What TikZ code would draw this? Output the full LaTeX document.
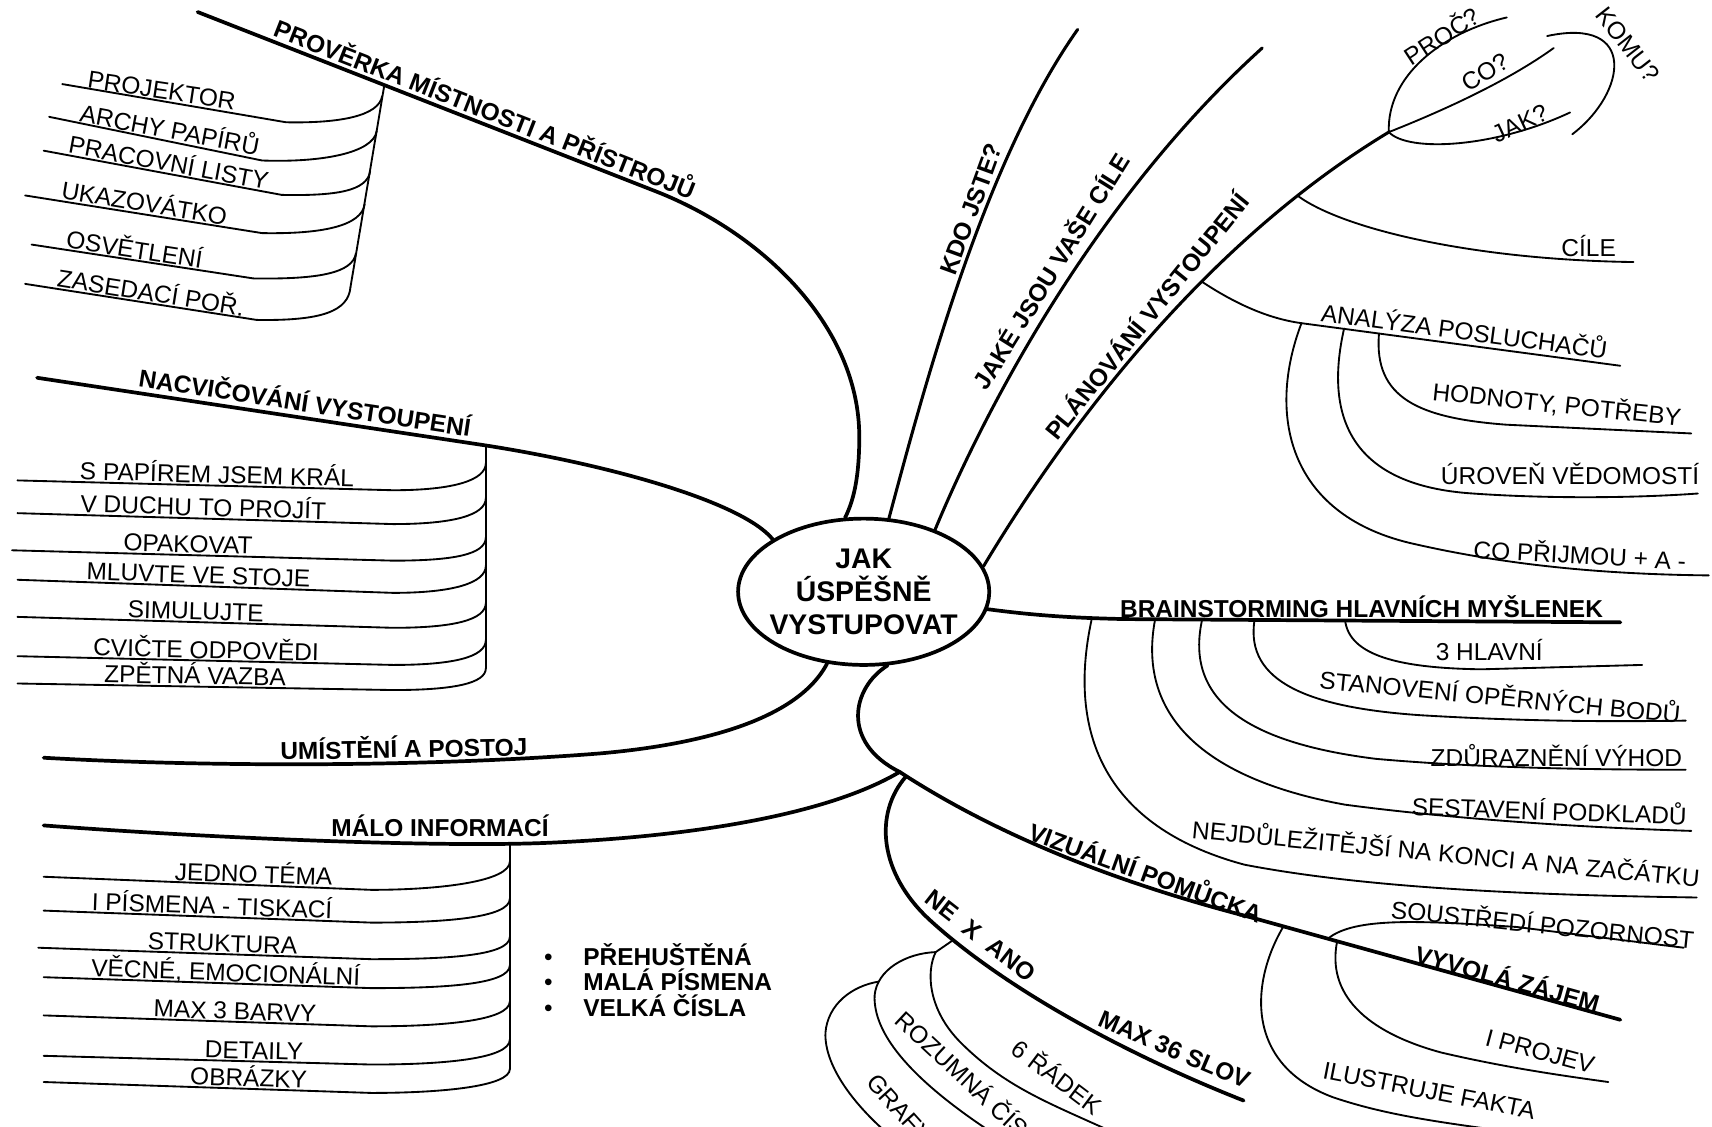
\documentclass[tikz,border=0pt]{standalone}
\usepackage{fontspec}
\setmainfont{Liberation Sans}
\usetikzlibrary{shapes.geometric}

\begin{document}
\begin{tikzpicture}[x=0.5pt,y=-0.5pt,
  trunk/.style={line width=1.7pt,line cap=round},
  stem/.style={line width=1.4pt,line cap=round},
  twig/.style={line width=0.85pt,line cap=round},
  leaf/.style={font=\fontsize{11.2}{13}\selectfont,inner sep=0pt,anchor=base},
  head/.style={font=\fontsize{11.2}{13}\selectfont\bfseries,inner sep=0pt,anchor=base},
]
\useasboundingbox (0,0) rectangle (1568,1032);
\clip (0,0) rectangle (1568,1032);

% === CENTRE ===
\node[ellipse,draw,line width=1.7pt,minimum width=115pt,minimum height=67pt] (hub) at (791,542) {};
\node[font=\fontsize{13}{15}\selectfont\bfseries,align=center] (hubtext) at (hub) {JAK\\ÚSPĚŠNĚ\\VYSTUPOVAT};

% === TOP LEFT: room check ===
\draw[trunk] (181,11) -- (600,175) .. controls (700,214) and (787,300) .. (787,400) .. controls (787,440) and (781,460) .. (hub.104);
\node[head,rotate=-21.4] (proverka) at (441,108) {PROVĚRKA MÍSTNOSTI A PŘÍSTROJŮ};
\draw[twig] (352,78) -- (321,263);
\draw[twig] (57,77) -- (262,112) .. controls +(50,1) and +(-3,18) .. (350,88);
\draw[twig] (45,107) -- (240,147) .. controls +(55,2) and +(-3,20) .. (345,120);
\draw[twig] (40,138) -- (258,178.5) .. controls +(50,1) and +(-3,18) .. (339,157);
\draw[twig] (23,179) -- (240,213.5) .. controls +(55,1) and +(-3,20) .. (334,187);
\draw[twig] (29,224) -- (232,255) .. controls +(60,1) and +(-3,18) .. (326,232);
\draw[twig] (23,260) -- (235,293) .. controls +(60,1) and +(-2,22) .. (321,263);
\node[leaf,rotate=-8.5] (projektor) at (147,90.5) {PROJEKTOR};
\node[leaf,rotate=-10.6] (archy) at (154,127) {ARCHY PAPÍRŮ};
\node[leaf,rotate=-10.5] (listy) at (153,157) {PRACOVNÍ LISTY};
\node[leaf,rotate=-9.3] (ukazovatko) at (131,194) {UKAZOVÁTKO};
\node[leaf,rotate=-8.7] (osvetleni) at (122,236.5) {OSVĚTLENÍ};
\node[leaf,rotate=-9] (zasedaci) at (137,276) {ZASEDACÍ POŘ.};

% === LEFT: rehearsal ===
\draw[trunk] (34,346) -- (445,408) .. controls (560,426) and (680,460) .. (hub.150);
\node[head,rotate=-8.6] (nacvic) at (278,377) {NACVIČOVÁNÍ VYSTOUPENÍ};
\draw[twig] (445,408) -- (445,612);
\draw[twig] (16,440) -- (360,449) .. controls +(55,0) and +(0,16) .. (445,424);
\draw[twig] (16,470) -- (360,480) .. controls +(55,0) and +(0,16) .. (445,456);
\draw[twig] (11,504) -- (360,513.5) .. controls +(55,0) and +(0,16) .. (445,492);
\draw[twig] (16,531) -- (360,543) .. controls +(55,0) and +(0,16) .. (445,518);
\draw[twig] (16,565) -- (360,575) .. controls +(55,0) and +(0,16) .. (445,552);
\draw[twig] (16,601) -- (360,609) .. controls +(55,0) and +(0,16) .. (445,586);
\draw[twig] (16,626) -- (360,632) .. controls +(55,0) and +(0,14) .. (445,612);
\node[leaf,rotate=-1.5] (kral) at (198.5,442.5) {S PAPÍREM JSEM KRÁL};
\node[leaf,rotate=-1.7] (duch) at (186,472.5) {V DUCHU TO PROJÍT};
\node[leaf,rotate=-1.6] (opakovat) at (172,506) {OPAKOVAT};
\node[leaf,rotate=-2] (mluvte) at (181.5,534.5) {MLUVTE VE STOJE};
\node[leaf,rotate=-1.7] (simulujte) at (179,567.5) {SIMULUJTE};
\node[leaf,rotate=-1.3] (cvicte) at (188.5,603) {CVIČTE ODPOVĚDI};
\node[leaf,rotate=-1] (zpetna) at (178.5,626.5) {ZPĚTNÁ VAZBA};

% === LEFT: posture ===
\draw[trunk] (40,694) .. controls (200,703) and (400,702) .. (550,690) .. controls (640,682) and (730,660) .. (hub.243);
\node[head,rotate=1] (umisteni) at (370,694) {UMÍSTĚNÍ A POSTOJ};

% === BOTTOM LEFT: little information ===
\coordinate (jv) at (824,707);
\draw[trunk] (hub.288) .. controls (780,630) and (770,680) .. (jv);
\draw[trunk] (jv) .. controls (760,745) and (640,766) .. (500,772) .. controls (400,776) and (200,768) .. (40,756);
\node[head] (malo) at (403,766) {MÁLO INFORMACÍ};
\draw[twig] (467,773) -- (467,979);
\draw[twig] (40,803) -- (340,815) .. controls +(65,0) and +(0,18) .. (467,789);
\draw[twig] (40,834) -- (340,845) .. controls +(65,0) and +(0,18) .. (467,823);
\draw[twig] (35,868) -- (340,878.5) .. controls +(65,0) and +(0,18) .. (467,858);
\draw[twig] (40,895) -- (340,905) .. controls +(65,0) and +(0,18) .. (467,884);
\draw[twig] (40,930) -- (340,940) .. controls +(65,0) and +(0,18) .. (467,917);
\draw[twig] (40,967) -- (340,975) .. controls +(65,0) and +(0,18) .. (467,952);
\draw[twig] (40,991) -- (340,1001) .. controls +(65,0) and +(0,16) .. (467,979);
\node[leaf,rotate=-2] (tema) at (232,808.5) {JEDNO TÉMA};
\node[leaf,rotate=-2] (pismena) at (194,837.5) {I PÍSMENA - TISKACÍ};
\node[leaf,rotate=-2] (struktura) at (203.5,871.8) {STRUKTURA};
\node[leaf,rotate=-2] (vecne) at (206.5,898.5) {VĚCNÉ, EMOCIONÁLNÍ};
\node[leaf,rotate=-2] (barvy) at (215,933.8) {MAX 3 BARVY};
\node[leaf,rotate=-1.5] (detaily) at (232.5,970) {DETAILY};
\node[leaf,rotate=-2] (obrazky) at (227.5,995) {OBRÁZKY};
\node[head,anchor=base west] (bul1) at (498,884) {{\mdseries\textbullet}\hspace{14pt}PŘEHUŠTĚNÁ};
\node[head,anchor=base west] (bul2) at (498,907) {{\mdseries\textbullet}\hspace{14pt}MALÁ PÍSMENA};
\node[head,anchor=base west] (bul3) at (498,931) {{\mdseries\textbullet}\hspace{14pt}VELKÁ ČÍSLA};

% === TOP: who, goals, planning ===
\coordinate (q) at (1272,121);
\draw[stem] (hub.71) .. controls (845,360) and (900,150) .. (987,27);
\node[head,rotate=70] (kdo) at (897,194) {KDO JSTE?};
\draw[stem] (hub.41) .. controls (900,380) and (1000,185) .. (1156,44);
\node[head,rotate=58] (goals) at (970,253) {JAKÉ JSOU VAŠE CÍLE};
\draw[stem] (hub.12) .. controls (975,395) and (1100,225) .. (q) coordinate[pos=0.63] (anroot) coordinate[pos=0.83] (cileroot);
\node[head,rotate=51] (planovani) at (1057,295) {PLÁNOVÁNÍ VYSTOUPENÍ};

\draw[twig] (q) .. controls (1270,70) and (1320,30) .. (1380,16);
\draw[twig] (q) .. controls (1320,102) and (1380,75) .. (1423,44);
\draw[twig] (q) .. controls (1290,140) and (1370,135) .. (1438,103);
\draw[twig] (1417,33) .. controls (1500,15) and (1490,85) .. (1440,123);
\node[leaf,anchor=center,rotate=33] (proc) at (1320,32) {PROČ?};
\node[leaf,anchor=center,rotate=32] (co) at (1360,66) {CO?};
\node[leaf,anchor=center,rotate=25] (jak) at (1392,113) {JAK?};
\node[leaf,anchor=center,rotate=-52] (komu) at (1491,41) {KOMU?};

\draw[twig] (cileroot) .. controls (1230,210) and (1350,238) .. (1496,240);
\node[leaf] (cilelabel) at (1455,235) {CÍLE};

\draw[twig] (anroot) .. controls (1140,284) and (1170,293) .. (1192,296) -- (1484,335);
\node[leaf,rotate=-7.6] (analyza) at (1340,311.5) {ANALÝZA POSLUCHAČŮ};
\draw[twig] (1263,305.5) .. controls (1258,365) and (1300,383) .. (1380,389) -- (1549,397);
\draw[twig] (1231,301) .. controls (1212,385) and (1240,445) .. (1349,452) .. controls (1420,457) and (1500,456) .. (1555,452);
\draw[twig] (1192,296) .. controls (1160,380) and (1180,470) .. (1290,497) .. controls (1380,518) and (1470,526) .. (1565,527);
\node[leaf,anchor=center,rotate=-6] (hodnoty) at (1426,370) {HODNOTY, POTŘEBY};
\node[leaf] (uroven) at (1438,444) {ÚROVEŇ VĚDOMOSTÍ};
\node[leaf,anchor=center,rotate=-3] (prijmou) at (1447,507) {CO PŘIJMOU + A -};

% === RIGHT: brainstorming ===
\draw[trunk] (hub.352) .. controls (950,564) and (985,566) .. (1030,567) -- (1484,570);
\node[head] (brain) at (1247,565.5) {BRAINSTORMING HLAVNÍCH MYŠLENEK};
\draw[twig] (1232,568.5) .. controls (1236,600) and (1280,612) .. (1357,613) -- (1504,609);
\draw[twig] (1149,568) .. controls (1140,625) and (1200,648) .. (1300,655) .. controls (1400,661) and (1480,661) .. (1544,660);
\draw[twig] (1101,567.5) .. controls (1085,640) and (1140,680) .. (1260,695) .. controls (1350,703) and (1450,705) .. (1544,705);
\draw[twig] (1058,567) .. controls (1040,660) and (1110,715) .. (1232,737) .. controls (1330,750) and (1450,758) .. (1549,761);
\draw[twig] (1000,566.5) .. controls (975,680) and (1020,760) .. (1140,792) .. controls (1260,815) and (1420,820) .. (1554,822);
\node[leaf] (hlavni) at (1364,604.5) {3 HLAVNÍ};
\node[leaf,anchor=center,rotate=-5.5] (stanoveni) at (1374,636.5) {STANOVENÍ OPĚRNÝCH BODŮ};
\node[leaf] (vyhod) at (1425.5,702) {ZDŮRAZNĚNÍ VÝHOD};
\node[leaf,anchor=center,rotate=-2] (podklady) at (1419,741) {SESTAVENÍ PODKLADŮ};
\node[leaf,anchor=center,rotate=-5.5] (nejdul) at (1324.5,780) {NEJDŮLEŽITĚJŠÍ NA KONCI A NA ZAČÁTKU};

% === BOTTOM RIGHT: visual aid ===
\draw[trunk] (jv) .. controls (890,750) and (990,800) .. (1145,840) coordinate[pos=0.03] (nxroot) -- (1484,934) coordinate[pos=0.09] (ilroot) coordinate[pos=0.21] (souroot) coordinate[pos=0.235] (projroot);
\node[head,anchor=center,rotate=-20] (vizual) at (1050,797) {VIZUÁLNÍ POMŮCKA};
\node[head,anchor=center,rotate=-15.5] (zajem) at (1381,895) {VYVOLÁ ZÁJEM};
\draw[twig] (souroot) .. controls (1240,840) and (1300,843) .. (1389,849) -- (1542,868);
\draw[twig] (projroot) .. controls (1215,910) and (1250,945) .. (1320,964) .. controls (1380,978) and (1430,985) .. (1473,991);
\draw[twig] (ilroot) .. controls (1145,900) and (1140,975) .. (1221,1005) .. controls (1280,1025) and (1340,1030) .. (1420,1042);
\node[leaf,anchor=center,rotate=-5.8] (soustredi) at (1413,845.5) {SOUSTŘEDÍ POZORNOST};
\node[leaf,anchor=center,rotate=-15] (projev) at (1410.5,963) {I PROJEV};
\node[leaf,anchor=center,rotate=-11] (ilustruje) at (1309,999) {ILUSTRUJE FAKTA};

\draw[trunk] (nxroot) .. controls (800,745) and (805,800) .. (852,843) .. controls (920,905) and (1030,965) .. (1139,1008);
\node[head,anchor=center,rotate=-38] (neano) at (898,857) {NE\ \ X\ \ ANO};
\node[head,anchor=center,rotate=-23] (max36) at (1075.5,961.5) {MAX 36 SLOV};
\coordinate (j6) at (873,861);
\coordinate (j7) at (857,872);
\coordinate (j8) at (805,899);
\draw[twig] (j6) -- (j7) .. controls (848,890) and (850,925) .. (880,955) .. controls (920,995) and (960,1010) .. (1015,1035);
\draw[twig] (j7) .. controls (830,873) and (803,888) .. (801,912) .. controls (800,945) and (830,985) .. (905,1035);
\draw[twig] (j8) .. controls (780,903) and (758,920) .. (756,946) .. controls (755,975) and (780,1010) .. (815,1040);
\node[leaf,anchor=center,rotate=-37] (radek) at (969,985.5) {6 ŘÁDEK};
\node[leaf,anchor=base west,rotate=-43] (rozumna) at (818,936) {ROZUMNÁ ČÍSLA};
\node[leaf,anchor=base west,rotate=-48] (grafy) at (792,992) {GRAFY};

\end{tikzpicture}
\end{document}
